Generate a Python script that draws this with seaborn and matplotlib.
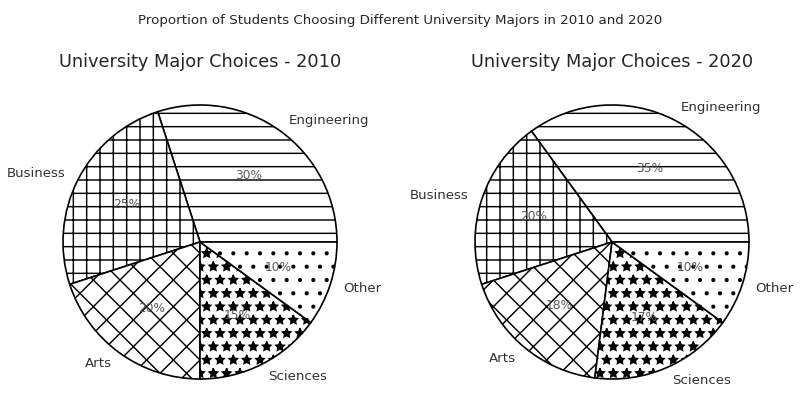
import matplotlib
matplotlib.use("Agg")
import matplotlib.pyplot as plt
import seaborn as sns

sns.set_style("white")
plt.rcParams['font.family'] = ['DejaVu Sans']
plt.rcParams['hatch.linewidth'] = 1.3

majors = ["Engineering", "Business", "Arts", "Sciences", "Other"]
share_2010 = [30, 25, 20, 15, 10]
share_2020 = [35, 20, 18, 17, 10]
hatches = ["-", "+", "x", "*", "."]

fig = plt.figure(figsize=(10, 5.125), dpi=80)
fig.suptitle("Proportion of Students Choosing Different University Majors in 2010 and 2020",
             fontsize=12, y=0.965, color=".15")

W, H = 800.0, 410.0
r = 137.0
side = 2.5 * r
positions = [(200, 242), (612, 242)]
data = [(share_2010, "2010"), (share_2020, "2020")]

for (cx, cy), (vals, year) in zip(positions, data):
    ax = fig.add_axes([(cx - side / 2) / W, (H - cy - side / 2) / H, side / W, side / H])
    wedges, texts, autotexts = ax.pie(
        vals, labels=majors, autopct="%1.0f%%", startangle=0,
        colors=["white"] * len(vals),
        wedgeprops=dict(edgecolor="black", linewidth=1.5),
        textprops=dict(fontsize=12, color=".2"))
    for w, h in zip(wedges, hatches):
        w.set_hatch(h)
    for t in autotexts:
        t.set_fontsize(11)
        t.set_color(".35")
    ax.set_title("University Major Choices - " + year, fontsize=16, color=".15", pad=-4)

fig.savefig("out.png", dpi=80)
